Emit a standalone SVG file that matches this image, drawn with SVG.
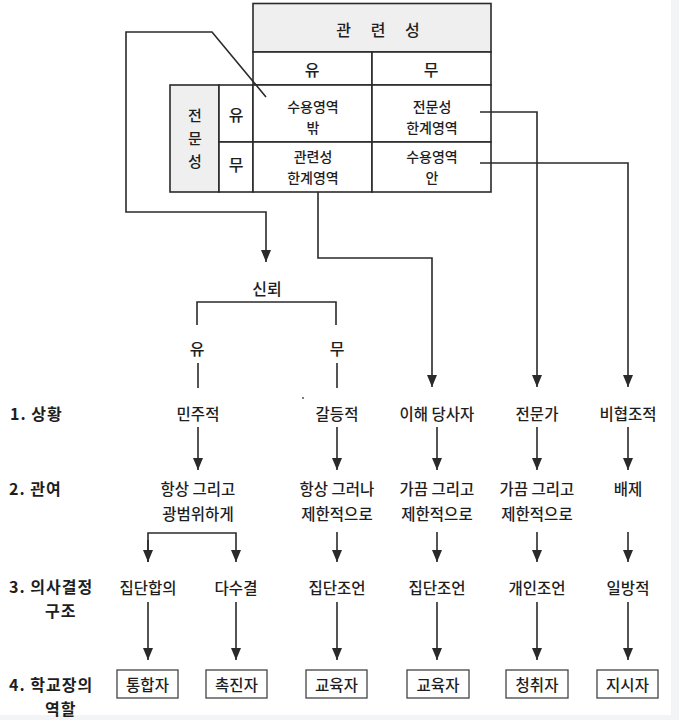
<svg xmlns="http://www.w3.org/2000/svg" width="679" height="720" viewBox="0 0 679 720">
<style>
  .t { font-family: "Noto Sans CJK KR", "Noto Sans", sans-serif; fill: #1e1e1e; text-anchor: middle; dominant-baseline: central; font-weight: 500; }
  .c14 { font-size: 14px; }
  .c15 { font-size: 15.5px; }
  .c16 { font-size: 16px; }
  .v15 { font-size: 15px; }
  .lab { font-size: 16px; font-weight: bold; text-anchor: start; letter-spacing: 1px; }
  .cell { fill: #fff; stroke: #2a2a2a; stroke-width: 1.6; }
  .gray { fill: #efefef; stroke: #2a2a2a; stroke-width: 1.6; }
  .ln { fill: none; stroke: #2a2a2a; stroke-width: 1.6; }
  .arr { fill: none; stroke: #2a2a2a; stroke-width: 1.6; marker-end: url(#ah); }
  .box { fill: #fff; stroke: #444; stroke-width: 1.3; }
</style>
<defs>
  <marker id="ah" viewBox="0 0 12 10" refX="12" refY="5" markerWidth="12" markerHeight="10" markerUnits="userSpaceOnUse" orient="auto">
    <path d="M0,0 L12,5 L0,10 z" fill="#2a2a2a"/>
  </marker>
</defs>
<rect x="0" y="0" width="679" height="720" fill="#fff"/>
<rect x="671" y="0" width="8" height="720" fill="#f3f4f5"/>
<rect x="0" y="715" width="679" height="5" fill="#f3f4f5"/>

<g id="matrix">
  <rect class="gray" x="253" y="3.5" width="238" height="48.5"/>
  <rect class="cell" x="253" y="52" width="119" height="33"/>
  <rect class="cell" x="372" y="52" width="119" height="33"/>
  <rect class="gray" x="170" y="85" width="49" height="107"/>
  <rect class="cell" x="219" y="85" width="34" height="57"/>
  <rect class="cell" x="219" y="142" width="34" height="50"/>
  <rect class="cell" x="253" y="85" width="119" height="57"/>
  <rect class="cell" x="372" y="85" width="119" height="57"/>
  <rect class="cell" x="253" y="142" width="119" height="50"/>
  <rect class="cell" x="372" y="142" width="119" height="50"/>
  <text class="t c16" x="382" y="29" style="letter-spacing:8px" xml:space="preserve">관 련 성</text>
  <text class="t c16" x="312" y="68.5">유</text>
  <text class="t c16" x="431" y="68.5">무</text>
  <text class="t v15"><tspan x="195" y="114">전</tspan><tspan x="195" y="137">문</tspan><tspan x="195" y="160">성</tspan></text>
  <text class="t c16" x="236" y="114">유</text>
  <text class="t c16" x="236" y="164">무</text>
  <g id="cell-accept-out">
    <text class="t c14"><tspan x="313" y="106">수용영역</tspan><tspan x="313" y="127">밖</tspan></text>
  </g>
  <g id="cell-expert-limit">
    <text class="t c14"><tspan x="432" y="106">전문성</tspan><tspan x="432" y="127">한계영역</tspan></text>
  </g>
  <g id="cell-relevance-limit">
    <text class="t c14"><tspan x="313" y="156">관련성</tspan><tspan x="313" y="177">한계영역</tspan></text>
  </g>
  <g id="cell-accept-in">
    <text class="t c14"><tspan x="432" y="156">수용영역</tspan><tspan x="432" y="177">안</tspan></text>
  </g>
</g>

<g id="connectors">
  <polyline class="arr" points="266,97 212,32 126,32 126,212 266,212 266,262"/>
  <polyline class="arr" points="318,192 318,258 432,258 432,387"/>
  <polyline class="arr" points="480,112 537,112 537,387"/>
  <polyline class="arr" points="480,163 628,163 628,387"/>
  <polyline class="ln" points="197,325 197,302 336,302 336,325"/>
  <line class="ln" x1="198" y1="363" x2="198" y2="388"/>
  <line class="ln" x1="337" y1="363" x2="337" y2="388"/>
  <line class="arr" x1="198" y1="427" x2="198" y2="470"/>
  <line class="arr" x1="337" y1="427" x2="337" y2="470"/>
  <line class="arr" x1="437" y1="427" x2="437" y2="470"/>
  <line class="arr" x1="537" y1="427" x2="537" y2="470"/>
  <line class="arr" x1="628" y1="427" x2="628" y2="470"/>
  <polyline class="arr" points="148,562 148,533 236,533 236,562"/>
  <line class="arr" x1="148" y1="540" x2="148" y2="562"/>
  <line class="arr" x1="337" y1="532" x2="337" y2="562"/>
  <line class="arr" x1="437" y1="532" x2="437" y2="562"/>
  <line class="arr" x1="537" y1="532" x2="537" y2="562"/>
  <line class="arr" x1="628" y1="532" x2="628" y2="562"/>
  <line class="arr" x1="148" y1="602" x2="148" y2="660"/>
  <line class="arr" x1="236" y1="602" x2="236" y2="660"/>
  <line class="arr" x1="337" y1="602" x2="337" y2="660"/>
  <line class="arr" x1="437" y1="602" x2="437" y2="660"/>
  <line class="arr" x1="537" y1="602" x2="537" y2="660"/>
  <line class="arr" x1="628" y1="602" x2="628" y2="660"/>
  <circle cx="303" cy="398" r="1" fill="#555"/>
</g>

<g id="trust"><text class="t c16" x="267" y="288">신뢰</text></g>
<g id="trust-yes"><text class="t c16" x="197" y="348">유</text></g>
<g id="trust-no"><text class="t c16" x="337" y="348">무</text></g>

<g id="labels">
  <text class="t lab" x="10" y="413">1. 상황</text>
  <text class="t lab" x="9" y="488">2. 관여</text>
  <text class="t lab"><tspan x="9" y="586">3. 의사결정</tspan><tspan x="45" y="609.5">구조</tspan></text>
  <text class="t lab"><tspan x="9" y="684">4. 학교장의</tspan><tspan x="45" y="707.5">역할</tspan></text>
</g>

<g id="situation-democratic"><text class="t c15" x="198" y="413">민주적</text></g>
<g id="situation-conflict"><text class="t c15" x="337" y="413">갈등적</text></g>
<g id="situation-stakeholder"><text class="t c15" x="437" y="413">이해 당사자</text></g>
<g id="situation-expert"><text class="t c15" x="537" y="413">전문가</text></g>
<g id="situation-noncoop"><text class="t c15" x="628" y="413">비협조적</text></g>

<g id="involve-1"><text class="t c15"><tspan x="198" y="488">항상 그리고</tspan><tspan x="198" y="513">광범위하게</tspan></text></g>
<g id="involve-2"><text class="t c15"><tspan x="337" y="488">항상 그러나</tspan><tspan x="337" y="513">제한적으로</tspan></text></g>
<g id="involve-3"><text class="t c15"><tspan x="437" y="488">가끔 그리고</tspan><tspan x="437" y="513">제한적으로</tspan></text></g>
<g id="involve-4"><text class="t c15"><tspan x="537" y="488">가끔 그리고</tspan><tspan x="537" y="513">제한적으로</tspan></text></g>
<g id="involve-5"><text class="t c15" x="628" y="488">배제</text></g>

<g id="decision-consensus"><text class="t c15" x="148" y="587">집단합의</text></g>
<g id="decision-majority"><text class="t c15" x="236" y="587">다수결</text></g>
<g id="decision-group1"><text class="t c15" x="337" y="587">집단조언</text></g>
<g id="decision-group2"><text class="t c15" x="437" y="587">집단조언</text></g>
<g id="decision-individual"><text class="t c15" x="537" y="587">개인조언</text></g>
<g id="decision-unilateral"><text class="t c15" x="628" y="587">일방적</text></g>

<g id="role-integrator"><rect class="box" x="117" y="670" width="61" height="28"/><text class="t c15" x="147.5" y="684">통합자</text></g>
<g id="role-facilitator"><rect class="box" x="206" y="670" width="61" height="28"/><text class="t c15" x="236.5" y="684">촉진자</text></g>
<g id="role-educator1"><rect class="box" x="306" y="670" width="61" height="28"/><text class="t c15" x="336.5" y="684">교육자</text></g>
<g id="role-educator2"><rect class="box" x="407" y="670" width="62" height="28"/><text class="t c15" x="438" y="684">교육자</text></g>
<g id="role-listener"><rect class="box" x="506" y="670" width="62" height="28"/><text class="t c15" x="537" y="684">청취자</text></g>
<g id="role-director"><rect class="box" x="597" y="670" width="61" height="28"/><text class="t c15" x="627.5" y="684">지시자</text></g>
</svg>
